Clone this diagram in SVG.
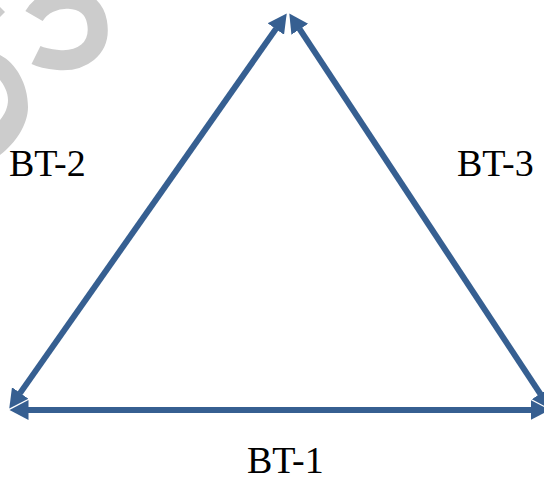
<svg xmlns="http://www.w3.org/2000/svg" width="544" height="481" viewBox="0 0 544 481">
  <style>
    .wm { fill: #cccccc; }
    .wms { fill: none; stroke: #cccccc; stroke-width: 20; stroke-linecap: butt; }
    .edge { stroke: #365F91; stroke-width: 6; fill: none; stroke-linecap: butt; marker-start: url(#head); marker-end: url(#head); }
    .lbl { font-family: "Liberation Serif", "Times New Roman", serif; font-size: 38px; fill: #000000; }
  </style>
  <defs>
    <marker id="head" markerUnits="userSpaceOnUse" markerWidth="21" markerHeight="22" refX="0.5" refY="10" orient="auto-start-reverse" viewBox="0 0 21 20">
      <path d="M0,0 L19,10 L0,20 Z" fill="#365F91"/>
    </marker>
  </defs>
  <rect width="544" height="481" fill="#ffffff"/>
  <g id="watermark">
    <path class="wms" d="M34,16 C48,-8 92,-8 97,22 C102,50 80,62 58,60 C48,59 42,58 36,55"/>
    <path class="wm" d="M0,55 C16,63 28,84 28,107 C28,124 16,143 0,155 L0,120 C5,114 8,107 8,100 C8,92 4,85 0,80 Z"/>
    <path class="wm" d="M0,7 L5,12 L0,17 Z"/>
  </g>
  <g id="connectors">
    <line id="edge-bt1" class="edge" x1="28" y1="410" x2="531" y2="410"/>
    <line id="edge-bt2" class="edge" x1="19.9" y1="393.4" x2="276.1" y2="28.6"/>
    <line id="edge-bt3" class="edge" x1="299.5" y1="28.9" x2="540.5" y2="394.1"/>
  </g>
  <g id="label-bt2"><text class="lbl" x="9" y="176">BT-2</text></g>
  <g id="label-bt3"><text class="lbl" x="457" y="176">BT-3</text></g>
  <g id="label-bt1"><text class="lbl" x="247" y="473">BT-1</text></g>
</svg>
